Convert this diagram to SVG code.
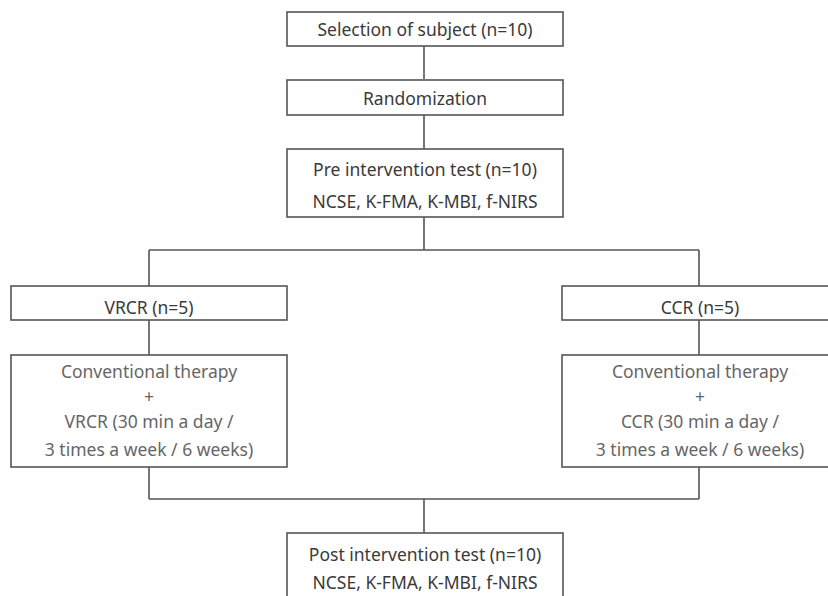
<svg xmlns="http://www.w3.org/2000/svg" width="828" height="596" viewBox="0 0 828 596">
<style>
.box{fill:#fff;stroke:#555;stroke-width:1.6}
.ln{fill:none;stroke:#555;stroke-width:1.6}
text{font-family:"Noto Sans","Open Sans",sans-serif;font-size:17.5px;fill:#3a3a3a;text-anchor:middle}
.lt{fill:#666}
</style>
<rect width="828" height="596" fill="#fff"/>
<g id="connectors">
<path class="ln" d="M424 46V79M424 115V149M424 217V250M149 250H699M149 250V286M699 250V286M149 320V355M699 320V355M149 467V499M699 467V499M149 499H699M424 499V533"/>
</g>
<g id="selection"><rect class="box" x="287" y="12" width="276" height="34"/><text x="425" y="36">Selection of subject (n=10)</text></g>
<g id="randomization"><rect class="box" x="287" y="80" width="276" height="35"/><text x="425" y="105">Randomization</text></g>
<g id="pre"><rect class="box" x="287" y="149" width="276" height="68"/><text x="425" y="176">Pre intervention test (n=10)</text><text x="425" y="208">NCSE, K-FMA, K-MBI, f-NIRS</text></g>
<g id="vrcr"><rect class="box" x="11" y="286" width="276" height="34"/><text x="149" y="314">VRCR (n=5)</text></g>
<g id="ccr"><rect class="box" x="562" y="286" width="280" height="34"/><text x="700" y="314">CCR (n=5)</text></g>
<g id="vrcr-therapy"><rect class="box" x="11" y="355" width="276" height="112"/><text class="lt" x="149" y="378">Conventional therapy</text><text class="lt" x="149" y="403">+</text><text class="lt" x="149" y="428">VRCR (30 min a day /</text><text class="lt" x="149" y="456">3 times a week / 6 weeks)</text></g>
<g id="ccr-therapy"><rect class="box" x="562" y="355" width="280" height="112"/><text class="lt" x="700" y="378">Conventional therapy</text><text class="lt" x="700" y="403">+</text><text class="lt" x="700" y="428">CCR (30 min a day /</text><text class="lt" x="700" y="456">3 times a week / 6 weeks)</text></g>
<g id="post"><rect class="box" x="287" y="533" width="276" height="80"/><text x="425" y="561">Post intervention test (n=10)</text><text x="425" y="589">NCSE, K-FMA, K-MBI, f-NIRS</text></g>
</svg>
